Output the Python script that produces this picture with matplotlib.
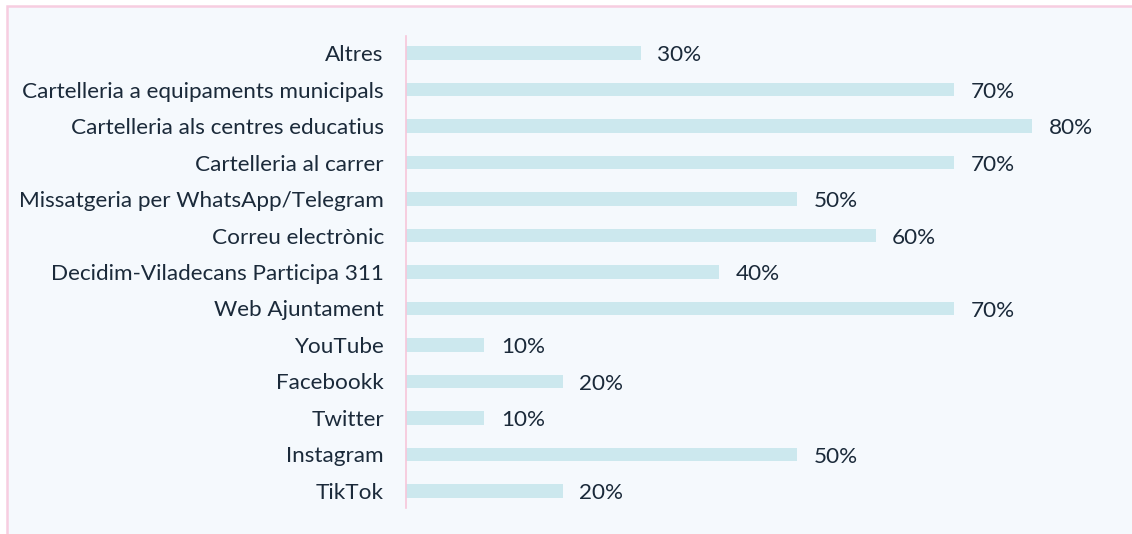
import matplotlib
matplotlib.use("Agg")
import matplotlib.pyplot as plt
from matplotlib.patches import Rectangle

categories = ["Altres", "Cartelleria a equipaments municipals", "Cartelleria als centres educatius",
              "Cartelleria al carrer", "Missatgeria per WhatsApp/Telegram", "Correu electrònic",
              "Decidim-Viladecans Participa 311", "Web Ajuntament", "YouTube", "Facebookk",
              "Twitter", "Instagram", "TikTok"]
values = [30, 70, 80, 70, 50, 60, 40, 70, 10, 20, 10, 50, 20]

W, H = 1132, 534
plt.rcParams['font.family'] = ['Lato', 'DejaVu Sans']
fig = plt.figure(figsize=(W / 100, H / 100), dpi=100)
fig.patch.set_facecolor('white')

# panel background with pink border (top & left visible)
fig.patches.append(Rectangle((6.5 / W, -0.1), 2.0, (H - 6.5) / H + 0.1, transform=fig.transFigure,
                             facecolor='#F5F9FD', edgecolor='#F7CDE0', linewidth=1.8, zorder=-5))

ax = fig.add_axes([406 / W, 26 / H, (W - 406) / W, 472 / H])
ax.set_facecolor('none')
ax.set_zorder(1)
n = len(categories)
ypos = list(range(n - 1, -1, -1))
ax.barh(ypos, values, height=0.36, color='#CCE8EE')
ax.set_xlim(0, (W - 406) / 78.25 * 10)
ax.set_ylim(-0.466, n - 1 + 0.466)
ax.set_yticks(ypos)
ax.set_yticklabels(categories, fontsize=16.2, color='#1B2A3A')
ax.tick_params(axis='y', length=0, pad=16)
ax.set_xticks([])
for s in ['top', 'right', 'bottom']:
    ax.spines[s].set_visible(False)
ax.spines['left'].set_color('#F7C6DA')
ax.spines['left'].set_linewidth(1.2)
for y, v in zip(ypos, values):
    ax.annotate(f"{v}%", (v, y), xytext=(12, -1.5), textcoords='offset points',
                va='center', ha='left', fontsize=16.2, color='#1B2A3A')

fig.savefig('out.png', dpi=100)
